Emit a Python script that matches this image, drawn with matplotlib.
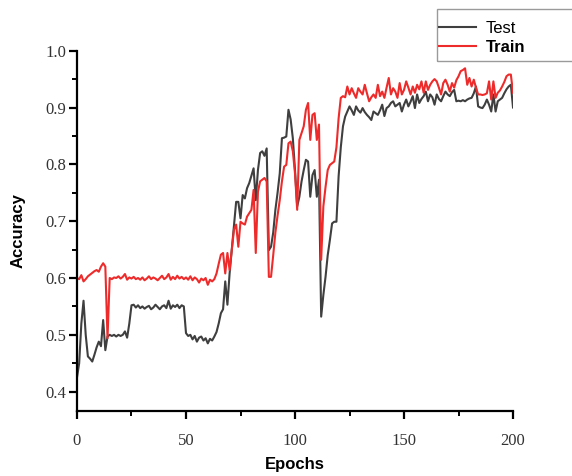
import numpy as np
import matplotlib
matplotlib.use('Agg')
import matplotlib.pyplot as plt
from matplotlib.patches import Rectangle
from matplotlib.ticker import MultipleLocator, FuncFormatter

# accuracy per epoch (0..200)
test_acc = [
    0.425, 0.450, 0.520, 0.560, 0.500, 0.462, 0.458, 0.453, 0.465, 0.478,
    0.488, 0.480, 0.526, 0.473, 0.497, 0.500, 0.498, 0.500, 0.497, 0.500,
    0.498, 0.500, 0.506, 0.495, 0.520, 0.552, 0.553, 0.548, 0.552, 0.547,
    0.550, 0.546, 0.549, 0.551, 0.545, 0.548, 0.553, 0.549, 0.545, 0.550,
    0.552, 0.547, 0.560, 0.546, 0.552, 0.549, 0.553, 0.547, 0.552, 0.550,
    0.503, 0.498, 0.500, 0.492, 0.498, 0.488, 0.495, 0.497, 0.490, 0.494,
    0.485, 0.493, 0.490, 0.497, 0.505, 0.520, 0.538, 0.545, 0.594, 0.553,
    0.608, 0.650, 0.690, 0.734, 0.734, 0.705, 0.746, 0.740, 0.758, 0.767,
    0.780, 0.793, 0.737, 0.790, 0.820, 0.823, 0.815, 0.828, 0.649, 0.655,
    0.680, 0.720, 0.750, 0.784, 0.846, 0.847, 0.849, 0.896, 0.879, 0.846,
    0.790, 0.726, 0.743, 0.770, 0.790, 0.808, 0.805, 0.743, 0.781, 0.790,
    0.743, 0.773, 0.532, 0.570, 0.602, 0.640, 0.667, 0.696, 0.699, 0.699,
    0.779, 0.830, 0.867, 0.884, 0.893, 0.902, 0.895, 0.887, 0.902, 0.895,
    0.891, 0.899, 0.892, 0.887, 0.883, 0.878, 0.893, 0.890, 0.887, 0.895,
    0.905, 0.885, 0.899, 0.902, 0.908, 0.911, 0.902, 0.905, 0.908, 0.893,
    0.905, 0.914, 0.902, 0.910, 0.920, 0.899, 0.923, 0.908, 0.915, 0.920,
    0.928, 0.911, 0.923, 0.918, 0.905, 0.923, 0.915, 0.911, 0.920, 0.928,
    0.923, 0.920, 0.927, 0.931, 0.911, 0.912, 0.911, 0.913, 0.911, 0.914,
    0.916, 0.917, 0.925, 0.937, 0.902, 0.900, 0.899, 0.905, 0.914, 0.905,
    0.893, 0.923, 0.893, 0.911, 0.914, 0.917, 0.925, 0.932, 0.937, 0.940,
    0.900,
]

train_acc = [
    0.600, 0.598, 0.605, 0.594, 0.598, 0.603, 0.606, 0.609, 0.612, 0.614,
    0.611, 0.620, 0.626, 0.620, 0.494, 0.600, 0.598, 0.601, 0.600, 0.603,
    0.599, 0.602, 0.607, 0.597, 0.601, 0.599, 0.602, 0.598, 0.600, 0.597,
    0.601, 0.596, 0.599, 0.603, 0.598, 0.601, 0.599, 0.596, 0.600, 0.604,
    0.598, 0.601, 0.607, 0.597, 0.602, 0.598, 0.604, 0.599, 0.602, 0.598,
    0.601, 0.597, 0.603, 0.596, 0.601, 0.598, 0.592, 0.599, 0.596, 0.600,
    0.588, 0.597, 0.594, 0.598, 0.608, 0.625, 0.641, 0.644, 0.608, 0.644,
    0.614, 0.650, 0.685, 0.694, 0.655, 0.699, 0.696, 0.694, 0.708, 0.714,
    0.720, 0.755, 0.644, 0.752, 0.770, 0.773, 0.776, 0.770, 0.602, 0.602,
    0.640, 0.680, 0.710, 0.737, 0.770, 0.796, 0.799, 0.837, 0.840, 0.823,
    0.784, 0.720, 0.843, 0.855, 0.867, 0.896, 0.908, 0.843, 0.887, 0.890,
    0.843, 0.870, 0.632, 0.726, 0.760, 0.790, 0.799, 0.802, 0.805, 0.830,
    0.881, 0.917, 0.920, 0.918, 0.937, 0.923, 0.934, 0.925, 0.917, 0.934,
    0.928, 0.923, 0.940, 0.925, 0.911, 0.918, 0.923, 0.917, 0.940, 0.920,
    0.928, 0.917, 0.935, 0.952, 0.923, 0.934, 0.928, 0.917, 0.943, 0.923,
    0.931, 0.946, 0.935, 0.923, 0.937, 0.926, 0.940, 0.932, 0.946, 0.926,
    0.946, 0.931, 0.940, 0.946, 0.950, 0.946, 0.935, 0.923, 0.943, 0.949,
    0.940, 0.928, 0.943, 0.935, 0.948, 0.955, 0.964, 0.966, 0.969, 0.940,
    0.952, 0.937, 0.949, 0.935, 0.923, 0.923, 0.922, 0.923, 0.925, 0.946,
    0.914, 0.946, 0.917, 0.926, 0.930, 0.937, 0.945, 0.955, 0.958, 0.958,
    0.926,
]

epochs = np.arange(len(test_acc))

fig = plt.figure(figsize=(5.72, 4.76), dpi=100)
ax = fig.add_axes([0.1346, 0.1372, 0.7623, 0.7563])

ax.plot(epochs, test_acc, color='#3f3f3f', linewidth=1.5, label='Test')
ax.plot(epochs, train_acc, color='#ee2b2b', linewidth=1.5, label='Train')

ax.set_xlim(0, 200)
ax.set_ylim(0.3665, 1.0)

ax.spines['top'].set_visible(False)
ax.spines['right'].set_visible(False)
for s in ['left', 'bottom']:
    ax.spines[s].set_linewidth(1.6)
    ax.spines[s].set_color('black')

ax.xaxis.set_major_locator(MultipleLocator(50))
ax.xaxis.set_minor_locator(MultipleLocator(25))
ax.yaxis.set_major_locator(MultipleLocator(0.1))
ax.yaxis.set_minor_locator(MultipleLocator(0.05))
ax.yaxis.set_major_formatter(FuncFormatter(lambda v, p: f'{v:.1f}'))
ax.tick_params(which='major', direction='out', length=6, width=1.6)
ax.tick_params(which='minor', direction='out', length=3.5, width=1.4)
ax.tick_params(axis='x', which='major', pad=10)
ax.tick_params(axis='y', which='major', pad=2)
for lab in ax.get_xticklabels() + ax.get_yticklabels():
    lab.set_fontfamily('Liberation Serif')
    lab.set_fontsize(12)
    lab.set_color('#333333')

ax.set_xlabel('Epochs', fontsize=12, fontweight='bold', fontfamily='Liberation Sans', labelpad=6)
ax.set_ylabel('Accuracy', fontsize=12, fontweight='bold', fontfamily='Liberation Sans', labelpad=14)

leg = fig.legend(loc='center left', bbox_to_anchor=(439 / 572, 1 - 38 / 476),
                 frameon=False, borderpad=0, borderaxespad=0,
                 handlelength=2.2, handletextpad=0.6, labelspacing=0.2,
                 prop={'family': 'Liberation Sans', 'size': 12})
leg.get_texts()[1].set_fontweight('bold')
fig.patches.append(Rectangle((436.5 / 572, 1 - 60.5 / 476), 0.3, 51.5 / 476,
                             transform=fig.transFigure, fill=False,
                             edgecolor='#9a9a9a', linewidth=1.0))

fig.savefig('out.png', dpi=100)
